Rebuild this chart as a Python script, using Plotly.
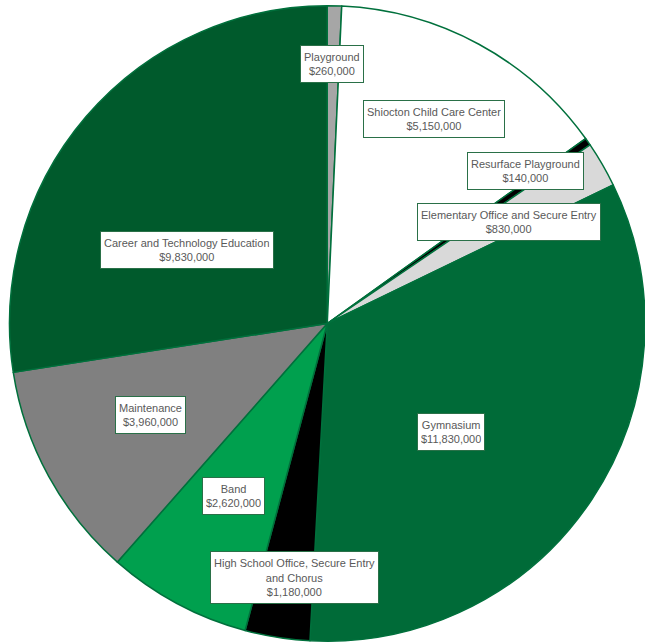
import math
import plotly.graph_objects as go

# ---- data ----
categories = [
    "Playground",
    "Shiocton Child Care Center",
    "Resurface Playground",
    "Elementary Office and Secure Entry",
    "Gymnasium",
    "High School Office, Secure Entry<br>and Chorus",
    "Band",
    "Maintenance",
    "Career and Technology Education",
]
values = [260000, 5150000, 140000, 830000, 11830000, 1180000, 2620000, 3960000, 9830000]
slice_colors = ["#A6A6A6", "#FFFFFF", "#000000", "#D9D9D9", "#006B38",
                "#000000", "#00A04E", "#808080", "#005A2C"]

# label placement (angle clockwise from 12 o'clock in degrees, radius as fraction)
label_angle = [1.1, 27.6, 52.5, 60.9, 131.3, 187.3, 208.5, 242.6, 297.5]
label_radius = [0.818, 0.726, 0.788, 0.654, 0.517, 0.806, 0.617, 0.627, 0.498]

W, H = 645, 643
dom_x = [9.5 / W, 1.0]
dom_y = [0.0, 1 - 4.0 / H]

fig = go.Figure(go.Pie(
    labels=categories,
    values=values,
    sort=False,
    direction="clockwise",
    rotation=0,
    marker=dict(colors=slice_colors, line=dict(color="#00703C", width=1.5)),
    textinfo="none",
    hoverinfo="label+value",
    showlegend=False,
    domain=dict(x=dom_x, y=dom_y),
))

# pie geometry in pixels (plotly: radius = min(domain w,h)/2, centred in domain)
dw = (dom_x[1] - dom_x[0]) * W
dh = (dom_y[1] - dom_y[0]) * H
R = min(dw, dh) / 2
cx = (dom_x[0] + dom_x[1]) / 2 * W
cy = (dom_y[0] + dom_y[1]) / 2 * H  # from bottom

def fmt(v):
    return "${:,}".format(v)

for name, v, ang, rf in zip(categories, values, label_angle, label_radius):
    a = math.radians(ang)
    px = cx + rf * R * math.sin(a)
    py = cy + rf * R * math.cos(a)
    text = name + "<br>" + fmt(v)
    n_lines = text.count("<br>") + 1
    fig.add_annotation(
        x=px / W, y=py / H, xref="paper", yref="paper",
        xanchor="center", yanchor="middle",
        text=text,
        showarrow=False,
        font=dict(family="Liberation Sans, Arial, sans-serif", size=11, color="#595959"),
        bgcolor="#FFFFFF",
        bordercolor="#2A7048",
        borderwidth=1,
        borderpad=3,
        height=15 * n_lines,
        align="center",
        valign="middle",
    )

fig.update_layout(
    width=W, height=H,
    margin=dict(l=0, r=0, t=0, b=0),
    paper_bgcolor="#FFFFFF",
    plot_bgcolor="#FFFFFF",
)

fig.write_html("out.html", config={"displayModeBar": False},
               post_script="document.body.style.margin='0px';")
